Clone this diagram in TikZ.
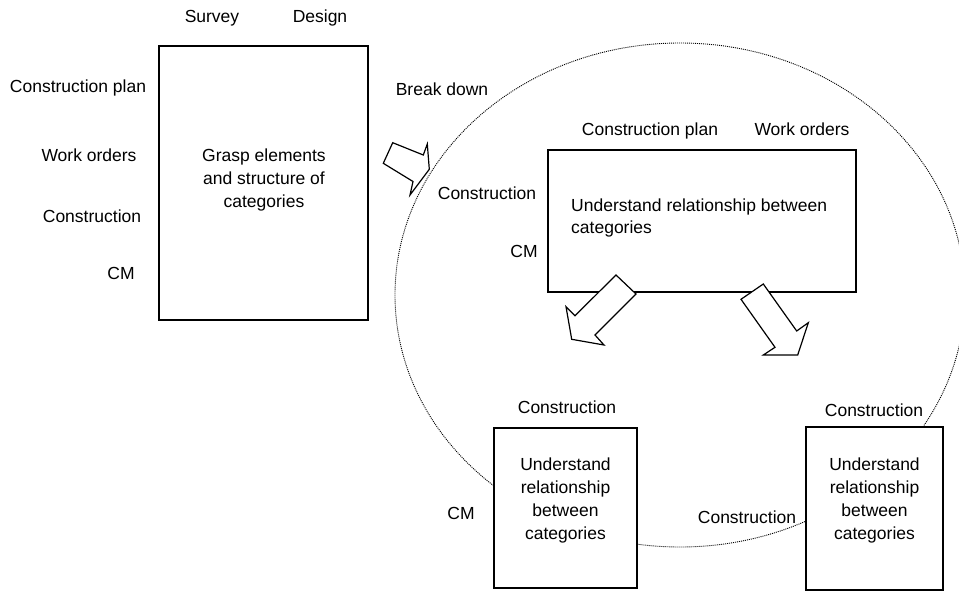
\documentclass[tikz,border=0pt]{standalone}
\usepackage{fontspec}
\setmainfont{Liberation Sans}
\begin{document}
\begin{tikzpicture}[x=1pt,y=-1pt,
  lbl/.style={anchor=base, inner sep=0pt, font=\fontsize{17.5}{23}\selectfont},
  box/.style={draw, fill=white, line width=1.2pt, inner sep=0pt},
  boxtext/.style={align=center, inner sep=0pt, font=\fontsize{17.5}{23}\selectfont},
  blockarrow/.style={draw, fill=white, line width=1.2pt, line join=miter},
  orbit/.style={line width=0.9pt, dash pattern=on 1pt off 1pt}]
\useasboundingbox (0,0) rectangle (959,592);

% dotted enclosing ellipse
\draw[orbit] (680,295) ellipse [x radius=285pt, y radius=252pt];

% boxes
\node[box, minimum width=209pt, minimum height=274pt] (b1) at (263.5,183) {};
\node[box, minimum width=308pt, minimum height=142pt] (b2) at (702,221) {};
\node[box, minimum width=143pt, minimum height=160pt] (b3) at (565.5,508) {};
\node[box, minimum width=137pt, minimum height=163pt] (b4) at (874.5,508.5) {};

% box texts
\node[boxtext] (t1) at (264,180) {Grasp elements\\and structure of\\categories};
\node[boxtext, align=left, anchor=west, font=\fontsize{17.5}{21.5}\selectfont] (t2) at (571,218) {Understand relationship between\\categories};
\node[boxtext] (t3) at (565.5,500) {Understand\\relationship\\between\\categories};
\node[boxtext] (t4) at (874.5,500) {Understand\\relationship\\between\\categories};

% block arrows
\draw[blockarrow] (392.7,142.7) -- (423.3,155) -- (427.3,144) -- (429.3,169.3)
  -- (410,195) -- (413,181.5) -- (383.3,163.3) -- cycle;
\draw[blockarrow] (616,275) -- (636,294) -- (595,335) -- (604,345)
  -- (571.7,339.3) -- (566,306.7) -- (575,315.7) -- cycle;
\draw[blockarrow] (763.3,284) -- (741,299.3) -- (775,347.3) -- (763.3,355)
  -- (797.7,355) -- (808.3,322.7) -- (796.7,331) -- cycle;

% labels
\node[lbl] (survey) at (212,22) {Survey};
\node[lbl] (design) at (320,22) {Design};
\node[lbl] (cp1) at (78,92) {Construction plan};
\node[lbl] (wo1) at (89,161) {Work orders};
\node[lbl] (c1) at (92,222) {Construction};
\node[lbl] (cm1) at (121,279) {CM};
\node[lbl] (bd) at (442,95) {Break down};
\node[lbl] (cp2) at (650,135) {Construction plan};
\node[lbl] (wo2) at (802,135) {Work orders};
\node[lbl] (c2) at (487,199) {Construction};
\node[lbl] (cm2) at (524,257) {CM};
\node[lbl] (c3) at (567,413) {Construction};
\node[lbl] (cm3) at (461,519) {CM};
\node[lbl] (c4) at (747,523) {Construction};
\node[lbl] (c5) at (874,416) {Construction};
\end{tikzpicture}
\end{document}
